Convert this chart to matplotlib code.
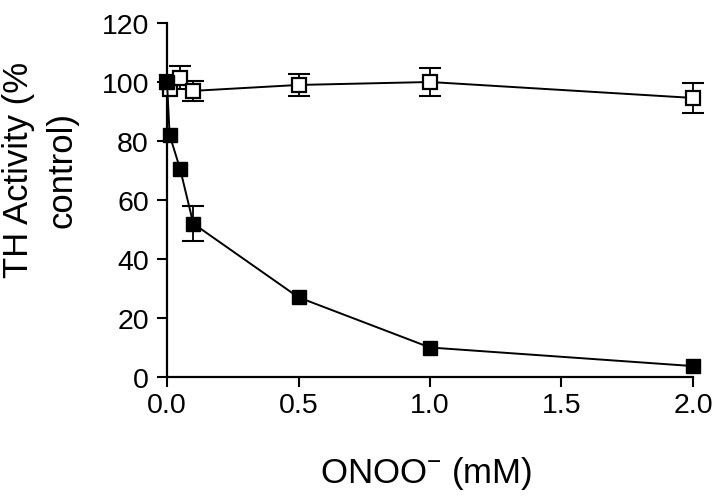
import matplotlib
matplotlib.use("Agg")
import matplotlib.pyplot as plt

plt.rcParams['font.family'] = ['Liberation Sans', 'DejaVu Sans']
plt.rcParams['mathtext.default'] = 'regular'

# ONOO- concentration (mM)
conc = [0.0, 0.01, 0.05, 0.1, 0.5, 1.0, 2.0]

# TH activity (% control) after ONOO- treatment (filled squares)
treated = [100, 82, 70.5, 52, 27, 10, 3.7]
treated_err = [0, 0, 0, 6, 0, 0, 0]

# control / decomposed ONOO- (open squares)
control = [100, 97.5, 101.5, 97, 99, 100, 94.6]
control_err = [0, 0, 4, 3.5, 3.7, 4.8, 5]

xticks = [0.0, 0.5, 1.0, 1.5, 2.0]
xticklabels = ['0.0', '0.5', '1.0', '1.5', '2.0']
yticks = [0, 20, 40, 60, 80, 100, 120]

fig = plt.figure(figsize=(7.2, 5.02), dpi=100)
ax = fig.add_axes([167/720, 1-378/502, (693-167)/720, (378-24)/502])


def draw(xs, ys, errs, filled, z):
    ex = [x for x, e in zip(xs, errs) if e > 0]
    ey = [y for y, e in zip(ys, errs) if e > 0]
    ee = [e for e in errs if e > 0]
    if ex:
        ax.errorbar(ex, ey, yerr=ee, fmt='none', ecolor='black',
                    capsize=8, capthick=1.5, elinewidth=1.3, clip_on=False, zorder=z)
    ax.plot(xs, ys, color='black', lw=1.4, marker='s',
            ms=9.5 if filled else 10, mfc='black' if filled else 'white',
            mec='black', mew=1 if filled else 1.6, clip_on=False, zorder=z + 0.5)


draw(conc, control, control_err, False, 3)
draw(conc, treated, treated_err, True, 4)

ax.set_xlim(0, 2.0)
ax.set_ylim(0, 120)
ax.set_xticks(xticks)
ax.set_xticklabels(xticklabels)
ax.set_yticks(yticks)

for s in ['top', 'right']:
    ax.spines[s].set_visible(False)
for s in ['left', 'bottom']:
    ax.spines[s].set_linewidth(1.6)

ax.tick_params(axis='both', direction='out', length=7, width=1.5, labelsize=20.5)
ax.tick_params(axis='y', pad=6)
ax.tick_params(axis='x', pad=4)

fig.text(426/720, 1-473/502, r'ONOO$^{-}$ (mM)', fontsize=25, ha='center', va='center')
fig.text(40/720, 1-170/502, 'TH Activity (%\ncontrol)', fontsize=25, rotation=90,
         ha='center', va='center', multialignment='center', linespacing=1.4)

fig.savefig('out.png', dpi=100)
